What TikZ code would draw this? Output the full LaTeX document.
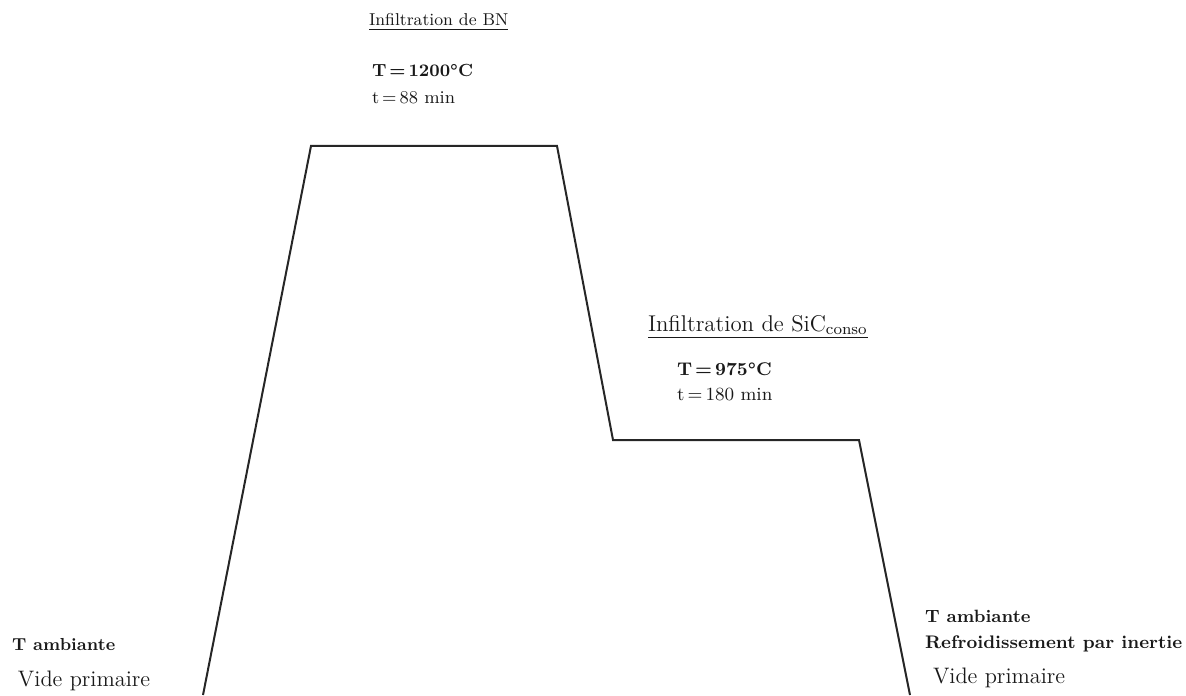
\documentclass[tikz,border=0pt]{standalone}
\begin{document}
\begin{tikzpicture}[x=0.5pt,y=-0.5pt,
  lbl/.style={anchor=base west, inner sep=0pt, outer sep=0pt, text=black!90},
  curve/.style={draw=black!85, line width=1pt, line join=miter}]
\useasboundingbox (0,0) rectangle (1186,695);
\coordinate (p0) at (203,695);
\coordinate (p1) at (311,146);
\coordinate (p2) at (557,146);
\coordinate (p3) at (613,440);
\coordinate (p4) at (859,440);
\coordinate (p5) at (910,695);
\draw[curve] (p0) -- (p1) -- (p2) -- (p3) -- (p4) -- (p5);
% first plateau
\node[lbl, font=\fontsize{8.6}{10}\selectfont] (bn) at (369,26) {\underline{Infiltration de BN}};
\node[lbl, font=\fontsize{8.8}{10}\selectfont\bfseries] (t1) at (372,77) {T\,=\,1200°C};
\node[lbl, font=\fontsize{9}{10}\selectfont] (d1) at (372,104) {t\,=\,88 min};
% second plateau
\node[lbl, font=\fontsize{11.4}{12}\selectfont] (sic) at (648,331) {\underline{Infiltration de SiC\textsubscript{conso}}};
\node[lbl, font=\fontsize{9.2}{10}\selectfont\bfseries] (t2) at (677,375) {T\,=\,975°C};
\node[lbl, font=\fontsize{9.3}{10}\selectfont] (d2) at (677,400) {t\,=\,180 min};
% left
\node[lbl, font=\fontsize{8.7}{10}\selectfont\bfseries] (la) at (12,650) {T ambiante};
\node[lbl, font=\fontsize{11.2}{12}\selectfont] (lv) at (18,686) {Vide primaire};
% right
\node[lbl, font=\fontsize{8.9}{10}\selectfont\bfseries] (ra) at (925,622) {T ambiante};
\node[lbl, font=\fontsize{9.1}{10}\selectfont\bfseries] (rr) at (925,648) {Refroidissement par inertie};
\node[lbl, font=\fontsize{11.2}{12}\selectfont] (rv) at (933,683) {Vide primaire};
\end{tikzpicture}
\end{document}
